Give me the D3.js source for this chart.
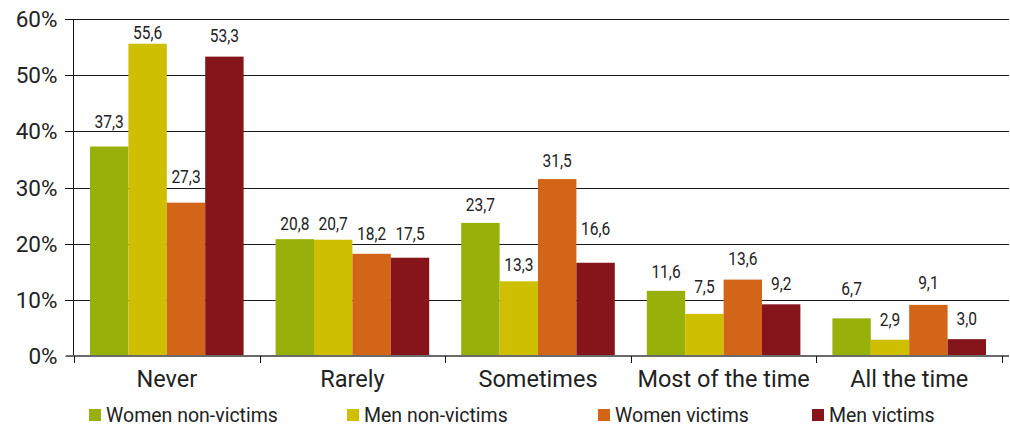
<!DOCTYPE html>
<html>
<head>
<meta charset="utf-8">
<script src="https://cdn.jsdelivr.net/npm/d3@7"></script>
<style>
  html, body { margin: 0; padding: 0; background: #fff; }
  svg { display: block; }
  text { fill: #222; }
</style>
</head>
<body>
<div id="chart"></div>
<script>
// ---- data ----
const categories = ["Never", "Rarely", "Sometimes", "Most of the time", "All the time"];
const seriesNames = ["Women non-victims", "Men non-victims", "Women victims", "Men victims"];
const womenNonVictims = [37.3, 20.8, 23.7, 11.6, 6.7];
const menNonVictims   = [55.6, 20.7, 13.3, 7.5, 2.9];
const womenVictims    = [27.3, 18.2, 31.5, 13.6, 9.1];
const menVictims      = [53.3, 17.5, 16.6, 9.2, 3.0];
const yTicks = [0, 10, 20, 30, 40, 50, 60];

// ---- layout / style ----
const W = 1010, H = 425;
const colors = ["#97b00a", "#cebf00", "#d26518", "#85151b"];
// vertical gap (px) between each bar top and its value label centre, as placed in the reference
const labelGap = [
  [25, 11, 26, 21],
  [16, 16, 20, 24],
  [19, 17, 19, 34],
  [20, 28, 21, 21],
  [30, 20, 23, 21]
];
const legendX = [89, 347, 598, 812];
const numFont = "Roboto, 'DejaVu Sans Condensed', sans-serif";
const txtFont = "Roboto, 'Open Sans', sans-serif";

const allSeries = [womenNonVictims, menNonVictims, womenVictims, menVictims];

const svg = d3.select("#chart").append("svg").attr("width", W).attr("height", H);

const x0 = d3.scaleBand().domain(categories).range([74, 1002]).paddingInner(0).paddingOuter(0);
const groupPad = 16;
const x1 = d3.scaleBand().domain(seriesNames).range([groupPad, x0.bandwidth() - groupPad]).padding(0);
const y = d3.scaleLinear().domain([0, 60]).range([356, 19]);

// gridlines
svg.append("g")
  .selectAll("line").data(yTicks.filter(d => d > 0)).join("line")
  .attr("x1", 65).attr("x2", 1009)
  .attr("y1", d => Math.round(y(d)) + 0.5).attr("y2", d => Math.round(y(d)) + 0.5)
  .attr("stroke", "#1a1a1a").attr("stroke-width", 1);

// y axis
const yAxis = svg.append("g").attr("transform", "translate(73.5,0)")
  .call(d3.axisLeft(y).tickValues(yTicks).tickSize(8).tickPadding(8).tickFormat(d => d + "%"));
yAxis.select(".domain").attr("stroke", "#111").attr("d", `M0,${y(60)}V${y(0)}`);
yAxis.selectAll(".tick line").attr("stroke", "#111");
yAxis.selectAll(".tick").attr("transform", d => `translate(0,${Math.round(y(d)) + 0.5})`);
yAxis.selectAll("text").attr("font-family", txtFont).attr("font-size", 22.5).attr("fill", "#222");

// bars
const groups = svg.append("g").selectAll("g").data(categories).join("g")
  .attr("transform", d => `translate(${x0(d)},0)`);

groups.selectAll("rect")
  .data((c, ci) => allSeries.map((s, si) => ({ name: seriesNames[si], v: s[ci], si, ci })))
  .join("rect")
  .attr("x", d => x1(d.name))
  .attr("width", x1.bandwidth())
  .attr("y", d => y(d.v))
  .attr("height", d => y(0) - y(d.v))
  .attr("fill", d => colors[d.si]);

groups.selectAll("text.val")
  .data((c, ci) => allSeries.map((s, si) => ({ name: seriesNames[si], v: s[ci], si, ci })))
  .join("text").attr("class", "val")
  .attr("transform", d => `translate(${x1(d.name) + x1.bandwidth() / 2},${y(d.v) - labelGap[d.ci][d.si]}) scale(0.84,1)`)
  .attr("dy", "0.36em")
  .attr("text-anchor", "middle")
  .attr("font-family", numFont).attr("font-size", 18.5)
  .text(d => d3.format(".1f")(d.v).replace(".", ","));

// x axis
const xAxis = svg.append("g").attr("transform", `translate(0,${y(0)})`)
  .call(d3.axisBottom(x0).tickSize(0).tickPadding(14));
xAxis.select(".domain").remove();
svg.append("line").attr("x1", 66).attr("x2", 1009).attr("y1", y(0)).attr("y2", y(0))
  .attr("stroke", "#6a6a6a").attr("stroke-width", 2);
svg.append("g").selectAll("line").data(d3.range(categories.length + 1)).join("line")
  .attr("x1", i => Math.round(74 + i * x0.bandwidth()) + 0.5)
  .attr("x2", i => Math.round(74 + i * x0.bandwidth()) + 0.5)
  .attr("y1", y(0)).attr("y2", y(0) + 7)
  .attr("stroke", "#111");
xAxis.selectAll("text").attr("font-family", txtFont).attr("font-size", 23.5).attr("fill", "#222")
  .attr("dy", "0.71em");

// legend
const legend = svg.append("g").selectAll("g").data(seriesNames).join("g")
  .attr("transform", (d, i) => `translate(${legendX[i]},409)`);
legend.append("rect").attr("width", 12).attr("height", 12).attr("fill", (d, i) => colors[i]);
legend.append("text").attr("x", 17).attr("y", 12.5)
  .attr("font-family", txtFont).attr("font-size", 19.5).text(d => d);
</script>
</body>
</html>
